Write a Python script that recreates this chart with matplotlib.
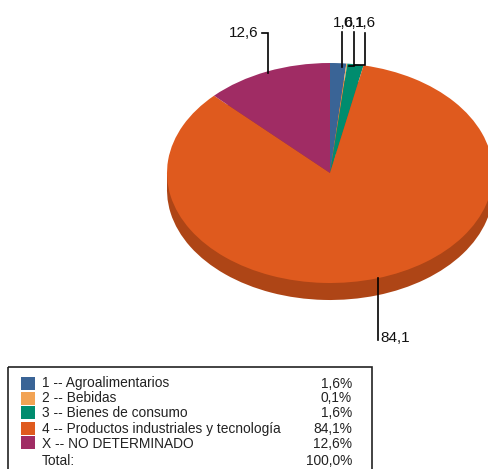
import matplotlib
matplotlib.use('Agg')
import matplotlib.pyplot as plt
from matplotlib.patches import Rectangle

plt.rcParams['font.family'] = ['Liberation Sans', 'DejaVu Sans']

categories = ['1 -- Agroalimentarios', '2 -- Bebidas', '3 -- Bienes de consumo',
              '4 -- Productos industriales y tecnología', 'X -- NO DETERMINADO']
values = [1.6, 0.1, 1.6, 84.1, 12.6]
value_labels = ['1,6%', '0,1%', '1,6%', '84,1%', '12,6%']
total_label = 'Total:'
total_value = '100,0%'
colors = ['#3A6496', '#F2A354', '#008C6E', '#DF5A1E', '#A02C64']
side_color = '#AE4516'

W, H = 489, 469
fig = plt.figure(figsize=(W / 100, H / 100), dpi=100)

# pie axes, flattened to an ellipse (centre 330,173 rx 163 ry 110, in pixels)
cx, cy, rx, ry = 330, 173, 163, 110
depth = 17 / ry
pie_ax = fig.add_axes([(cx - rx) / W, 1 - (cy + ry) / H, 2 * rx / W, 2 * ry / H])
pie_ax.pie(values, colors=[side_color] * 5, startangle=90, counterclock=False,
           center=(0, -depth), radius=1, frame=True)
pie_ax.add_patch(Rectangle((-1, -depth), 2, depth, color=side_color, lw=0))
pie_ax.pie(values, colors=colors, startangle=90, counterclock=False,
           center=(0, 0), radius=1, frame=True,
           wedgeprops={'linewidth': 0})
pie_ax.set_aspect('auto')
pie_ax.set_xlim(-1, 1)
pie_ax.set_ylim(-1, 1)
pie_ax.axis('off')
for p in pie_ax.patches:
    p.set_clip_on(False)

# overlay in pixel coordinates for the leaders and the legend
ax = fig.add_axes([0, 0, 1, 1], facecolor='none')
ax.set_xlim(0, W)
ax.set_ylim(H, 0)
ax.axis('off')

leaders = [([262, 268, 268], [33, 33, 73]),
           ([341.5, 341.5], [32, 67]),
           ([349, 353.5, 353.5], [66, 66, 32]),
           ([355, 365, 365], [65, 65, 33]),
           ([377.5, 377.5], [278, 340])]
for xs, ys in leaders:
    ax.plot(xs, ys, color='black', lw=1.2, solid_joinstyle='miter')

label_kw = dict(fontsize=11, color='#111111', va='center')
ax.text(258, 33, '12,6', ha='right', **label_kw)
ax.text(343.5, 23, '1,6', ha='center', **label_kw)
ax.text(353.5, 23, '0,1', ha='center', **label_kw)
ax.text(365, 23, '1,6', ha='center', **label_kw)
ax.text(380.5, 338, '84,1', ha='left', **label_kw)

# legend box runs off the bottom of the image
ax.add_patch(Rectangle((8, 367), 364, 110, fill=False, edgecolor='#222222', lw=1.2))
swatch_tops = [377, 392, 406, 422, 436]
text_rows = [383.5, 397.5, 413, 429, 443.5]
for name, val, col, top, row in zip(categories, value_labels, colors, swatch_tops, text_rows):
    ax.add_patch(Rectangle((21, top), 14, 13.5, color=col, lw=0))
    ax.text(42, row, name, fontsize=9.9, va='center', ha='left', color='#222222')
    ax.text(352, row, val, fontsize=9.9, va='center', ha='right', color='#222222')
ax.text(42, 461, total_label, fontsize=9.9, va='center', ha='left', color='#222222')
ax.text(352, 461, total_value, fontsize=9.9, va='center', ha='right', color='#222222')

fig.savefig('out.png', dpi=100)
